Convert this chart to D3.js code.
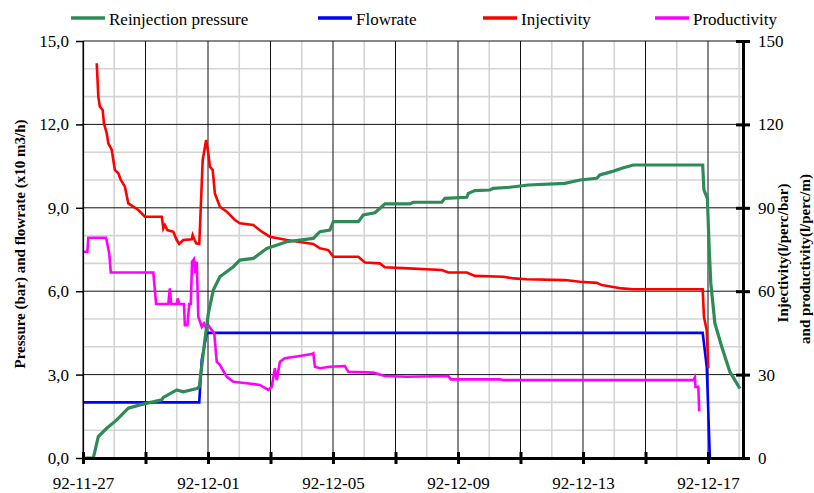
<!DOCTYPE html>
<html>
<head>
<meta charset="utf-8">
<script src="https://cdn.jsdelivr.net/npm/d3@7"></script>
<style>
  body { margin: 0; background: #fff; }
  svg { display: block; font-family: "Liberation Serif", "Times New Roman", serif; }
</style>
</head>
<body>
<svg id="chart" width="814" height="493"></svg>
<script>
// day offsets from 92-11-27 00:00
const pressure = [
  [0, 0], [0.33, 0], [0.49, 0.77], [0.76, 1.07], [1.08, 1.37], [1.45, 1.79], [1.82, 1.91],
  [2.52, 2.09], [2.57, 2.18], [3.0, 2.45], [3.21, 2.38], [3.64, 2.5], [3.72, 2.56],
  [3.9, 4.24], [4.01, 5.2], [4.17, 6.04], [4.38, 6.52], [4.81, 6.88], [5.02, 7.12],
  [5.45, 7.18], [5.88, 7.54], [6.52, 7.78], [7.37, 7.9], [7.58, 8.14], [7.9, 8.2],
  [8.01, 8.5], [8.81, 8.5], [8.97, 8.74], [9.34, 8.82], [9.56, 9.04], [9.66, 9.14],
  [10.46, 9.14], [10.57, 9.2], [11.48, 9.2], [11.58, 9.34], [12.28, 9.38], [12.33, 9.52],
  [12.54, 9.62], [13.02, 9.64], [13.13, 9.7], [13.66, 9.74], [14.25, 9.82], [15.42, 9.88],
  [15.9, 10.0], [16.44, 10.06], [16.54, 10.18], [16.92, 10.3], [17.24, 10.42], [17.61, 10.54],
  [19.83, 10.54], [19.87, 9.64], [19.98, 9.34], [20.04, 7.48], [20.09, 6.28], [20.22, 4.85],
  [20.44, 4.0], [20.54, 3.65], [20.7, 3.1], [20.86, 2.8], [21.02, 2.5]
];
const flowrate = [
  [0, 2.0], [3.72, 2.0], [3.8, 3.53], [3.96, 4.5], [19.83, 4.5], [19.96, 3.28], [20.06, 0]
];
const injectivity = [
  [0.44, 142], [0.49, 130], [0.54, 126.4], [0.63, 125.2], [0.67, 120.4], [0.76, 116.8],
  [0.81, 113.2], [0.92, 110.8], [1.02, 103.6], [1.13, 102.4], [1.21, 100], [1.34, 97.6],
  [1.45, 91.6], [1.61, 90.4], [1.77, 89.2], [1.98, 86.8], [2.52, 86.8], [2.57, 82.6],
  [2.62, 83.8], [2.7, 82], [2.89, 81.4], [3.0, 78.4], [3.08, 77], [3.21, 78.4], [3.48, 78.7],
  [3.51, 80.2], [3.62, 77.2], [3.72, 77], [3.77, 90.4], [3.83, 107.2], [3.94, 114.4],
  [4.01, 109.6], [4.06, 104.8], [4.15, 103.6], [4.22, 95.2], [4.38, 90.4], [4.6, 88.6],
  [4.86, 85.6], [5.02, 84.4], [5.45, 83.8], [5.72, 81.4], [5.98, 79.6], [6.52, 78.4],
  [7.37, 77], [7.58, 75.4], [7.85, 74.8], [8.01, 72.4], [8.81, 72.4], [9.02, 70.3],
  [9.5, 70], [9.66, 68.6], [10.41, 68.2], [11.48, 67.6], [11.69, 66.7], [12.28, 66.7],
  [12.54, 65.5], [13.45, 65.2], [13.78, 64.6], [14.2, 64.3], [15.42, 64], [15.9, 63.4],
  [16.44, 63], [16.6, 62.2], [16.92, 61.6], [17.24, 61], [17.61, 60.7], [19.83, 60.7],
  [19.87, 50.8], [19.96, 46], [20.01, 32.3]
];
const productivity = [
  [0, 74.2], [0.14, 74.2], [0.17, 79.2], [0.74, 79.2], [0.84, 73.6], [0.89, 66.7],
  [2.25, 66.7], [2.34, 55.4], [2.73, 55.4], [2.78, 61], [2.82, 55.4], [3.0, 55.4],
  [3.03, 57.4], [3.08, 55.4], [3.23, 55.4], [3.26, 47.8], [3.34, 47.8], [3.4, 55.4],
  [3.45, 55.4], [3.49, 70.6], [3.55, 71.5], [3.59, 66.4], [3.64, 70.6], [3.69, 50.8],
  [3.8, 47.2], [3.87, 48.4], [3.94, 46.7], [4.01, 47.8], [4.12, 46], [4.2, 44.8],
  [4.28, 34.6], [4.38, 33.5], [4.6, 29.2], [4.81, 27.4], [5.24, 26.9], [5.66, 26.3],
  [5.93, 24.5], [6.04, 25.6], [6.14, 32.3], [6.2, 28], [6.3, 34.6], [6.46, 35.9],
  [6.94, 36.7], [7.32, 37.4], [7.37, 37.7], [7.42, 32.8], [7.58, 32.3], [7.9, 32.8],
  [8.38, 33.1], [8.49, 31], [9.29, 30.7], [9.66, 29.5], [10.36, 29.2], [11.69, 29.5],
  [11.77, 28.3], [13.34, 28.3], [13.45, 28], [19.53, 28], [19.58, 29], [19.6, 25.6],
  [19.69, 25.6], [19.72, 16.7]
];
const leftTicks = [0, 3, 6, 9, 12, 15];
const rightTicks = [0, 30, 60, 90, 120, 150];
const majorDays = [0, 2, 4, 6, 8, 10, 12, 14, 16, 18, 20];
const minorDays = [1, 3, 5, 7, 9, 11, 13, 15, 17, 19, 21];
const labelDays = [0, 4, 8, 12, 16, 20];
const seriesNames = ["Reinjection pressure", "Flowrate", "Injectivity", "Productivity"];
const seriesColors = ["#2e8b57", "#0000ff", "#ff0000", "#ff00ff"];

const width = 814, height = 493;
const margin = {top: 41, right: 71, bottom: 35, left: 83};
const serif = "Liberation Serif, Times New Roman, serif";
const t0 = new Date(1992, 10, 27);
const day = d => new Date(t0.getTime() + d * 864e5);

const svg = d3.select("#chart");

let x = d3.scaleTime()
    .domain([day(0), day(21.12)])
    .range([margin.left, width - margin.right]);
let yL = d3.scaleLinear().domain([0, 15]).range([height - margin.bottom, margin.top]);
let yR = d3.scaleLinear().domain([0, 150]).range([height - margin.bottom, margin.top]);

const comma = v => d3.format(".1f")(v).replace(".", ",");

// minor grid
svg.append("g")
  .selectAll("line")
  .data(minorDays)
  .enter().append("line")
    .attr("x1", d => x(day(d))).attr("x2", d => x(day(d)))
    .attr("y1", margin.top).attr("y2", height - margin.bottom)
    .attr("stroke", "#d4d4d4").attr("stroke-width", 1.6);

svg.append("g")
  .selectAll("line")
  .data(d3.range(1, 15).filter(v => v % 3 !== 0))
  .enter().append("line")
    .attr("x1", margin.left).attr("x2", width - margin.right)
    .attr("y1", d => yL(d)).attr("y2", d => yL(d))
    .attr("stroke", "#d4d4d4").attr("stroke-width", 1.6);

// major grid
svg.append("g")
  .selectAll("line")
  .data(majorDays)
  .enter().append("line")
    .attr("x1", d => x(day(d))).attr("x2", d => x(day(d)))
    .attr("y1", margin.top).attr("y2", height - margin.bottom)
    .attr("stroke", "#111").attr("stroke-width", 1);

svg.append("g")
  .selectAll("line")
  .data(leftTicks)
  .enter().append("line")
    .attr("x1", margin.left).attr("x2", width - margin.right)
    .attr("y1", d => yL(d)).attr("y2", d => yL(d))
    .attr("stroke", "#111").attr("stroke-width", 1);

// series
const lineL = d3.line().x(d => x(day(d[0]))).y(d => yL(d[1]));
const lineR = d3.line().x(d => x(day(d[0]))).y(d => yR(d[1]));

svg.append("path").datum(flowrate).attr("d", lineL)
  .attr("fill", "none").attr("stroke", seriesColors[1]).attr("stroke-width", 2.6);
svg.append("path").datum(injectivity).attr("d", lineR)
  .attr("fill", "none").attr("stroke", seriesColors[2]).attr("stroke-width", 2.6);
svg.append("path").datum(productivity).attr("d", lineR)
  .attr("fill", "none").attr("stroke", seriesColors[3]).attr("stroke-width", 2.6);
svg.append("path").datum(pressure).attr("d", lineL)
  .attr("fill", "none").attr("stroke", seriesColors[0]).attr("stroke-width", 3.2);

// axes
let leftAxis = g => g
    .attr("transform", `translate(${margin.left},0)`)
    .call(d3.axisLeft(yL).tickValues(leftTicks).tickSize(7).tickPadding(7).tickFormat(comma))
    .call(g => g.select(".domain").attr("stroke-width", 1.2))
    .call(g => g.selectAll(".tick line").attr("stroke-width", 1.5));

let rightAxis = g => g
    .attr("transform", `translate(${width - margin.right},0)`)
    .call(d3.axisRight(yR).tickValues(rightTicks).tickSize(7).tickPadding(8).tickSizeOuter(0))
    .call(g => g.select(".domain").attr("stroke-width", 3))
    .call(g => g.selectAll(".tick line").attr("x1", -7).attr("stroke-width", 3));

let bottomAxis = g => g
    .attr("transform", `translate(0,${height - margin.bottom})`)
    .call(d3.axisBottom(x).tickValues(majorDays.map(day)).tickSize(6).tickSizeOuter(0)
      .tickFormat(d => {
        const k = Math.round((d - t0) / 864e5);
        return labelDays.includes(k) ? d3.timeFormat("%y-%m-%d")(d) : "";
      }))
    .call(g => g.select(".domain").attr("stroke-width", 3))
    .call(g => g.selectAll(".tick line").attr("y1", -6).attr("stroke-width", 3))
    .call(g => g.selectAll(".tick text").attr("dy", "1.3em"));

svg.append("g").call(leftAxis);
svg.append("g").call(rightAxis);
svg.append("g").call(bottomAxis);

svg.selectAll(".tick").attr("font-family", serif);
svg.selectAll(".tick text")
  .attr("font-family", serif)
  .attr("font-size", 17)
  .attr("fill", "#000");

// axis titles
svg.append("text")
  .attr("transform", "translate(25,244) rotate(-90)")
  .attr("text-anchor", "middle")
  .attr("font-family", serif)
  .style("font-size", "15px").attr("font-weight", "bold")
  .text("Pressure (bar) and flowrate (x10 m3/h)");

svg.append("text")
  .attr("transform", "translate(788,253) rotate(-90)")
  .attr("text-anchor", "middle")
  .attr("font-family", serif)
  .style("font-size", "15px").attr("font-weight", "bold")
  .text("Injectivity(l/perc/bar)");

svg.append("text")
  .attr("transform", "translate(810,259) rotate(-90)")
  .attr("text-anchor", "middle")
  .attr("font-family", serif)
  .style("font-size", "15px").attr("font-weight", "bold")
  .text("and productivity(l/perc/m)");

// legend
const legendX = [71, 318, 483, 655];
const legend = svg.append("g")
  .selectAll("g")
  .data(seriesNames)
  .enter().append("g")
    .attr("transform", (d, i) => `translate(${legendX[i]},18)`);

legend.append("line")
  .attr("x1", 0).attr("x2", 34).attr("y1", 0).attr("y2", 0)
  .attr("stroke", (d, i) => seriesColors[i]).attr("stroke-width", 3.5);

legend.append("text")
  .attr("x", 38).attr("y", 7)
  .attr("font-family", serif)
  .style("font-size", "17px")
  .text(d => d);
</script>
</body>
</html>
